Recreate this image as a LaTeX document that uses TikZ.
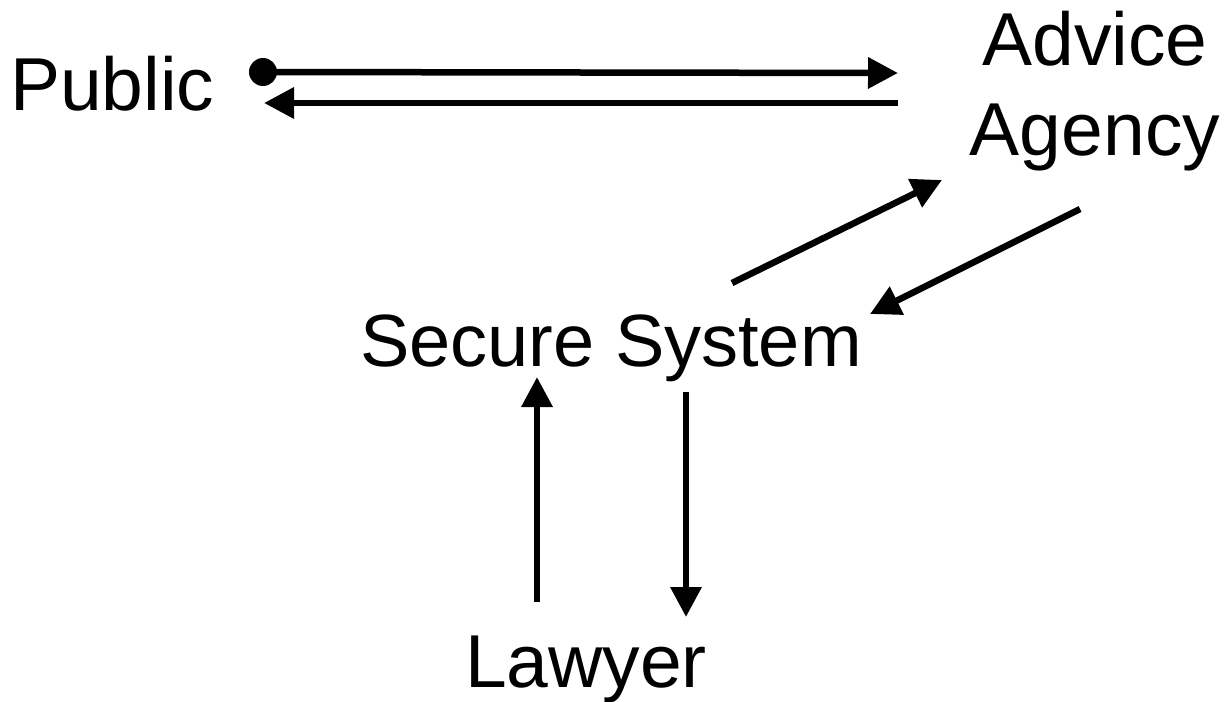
\documentclass[tikz,border=0pt]{standalone}
\usepackage{fontspec}
\setmainfont{Liberation Sans}
\usetikzlibrary{arrows.meta}
\begin{document}
\begin{tikzpicture}[x=1pt,y=-1pt,
  lbl/.style={inner sep=0pt,font=\fontsize{75}{90}\selectfont},
  conn/.style={line width=6.5pt,-{Triangle[length=30pt,width=30pt]}}]
\useasboundingbox (0,0) rectangle (1225,701);
\node[lbl,anchor=base west] (pub) at (10,110) {Public};
\node[lbl,anchor=base,align=center] (adv) at (1095,155) {Advice\\Agency};
\node[lbl,anchor=base,font=\fontsize{74}{90}\selectfont] (sec) at (611,366) {Secure System};
\node[lbl,anchor=base] (law) at (586,687) {Lawyer};
\node[circle,fill,inner sep=0pt,minimum size=28pt] (dot) at (263,72) {};
% endpoints
\coordinate (pa) at (898,73);
\coordinate (pb) at (898,103);
\coordinate (pc) at (264,103);
\coordinate (sa) at (732,283);
\coordinate (aa) at (942,180);
\coordinate (ab) at (1080,209);
\coordinate (sb) at (870,314);
\coordinate (su) at (537,377);
\coordinate (lu) at (537,602);
\coordinate (sd) at (686,392);
\coordinate (ld) at (686,617);
\draw[conn] (dot.center) -- (pa);
\draw[conn] (pb) -- (pc);
\draw[conn] (sa) -- (aa);
\draw[conn] (ab) -- (sb);
\draw[conn] (lu) -- (su);
\draw[conn] (sd) -- (ld);
\end{tikzpicture}
\end{document}
